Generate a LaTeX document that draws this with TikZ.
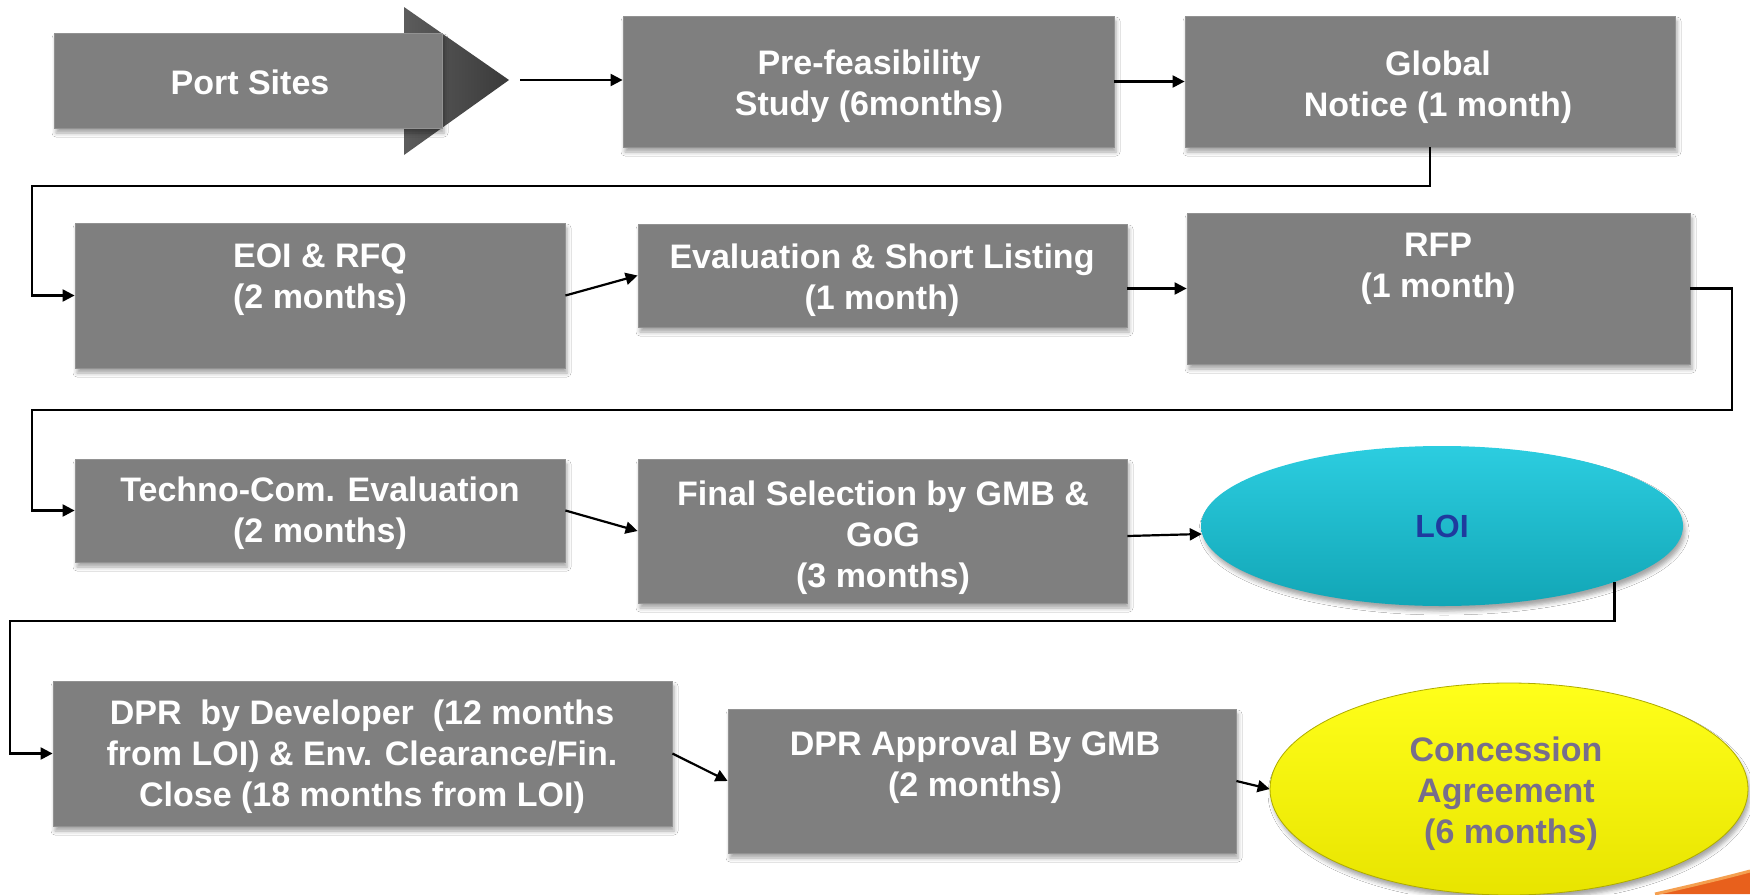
\documentclass[tikz,border=0pt]{standalone}
\usepackage{fontspec}
\setmainfont{Liberation Sans}
\usetikzlibrary{shapes.geometric, arrows.meta, shadows.blur, calc}

\definecolor{boxgray}{HTML}{7F7F7F}
\definecolor{headL}{HTML}{5C5C5C}
\definecolor{headR}{HTML}{3A3A3A}
\definecolor{loitop}{HTML}{2CCDE0}
\definecolor{loibot}{HTML}{12A6B6}
\definecolor{loitext}{HTML}{1F3A9E}
\definecolor{catop}{HTML}{FFFF1A}
\definecolor{cabot}{HTML}{E8E400}
\definecolor{catext}{HTML}{776E8C}
\definecolor{swooshA}{HTML}{E8601C}
\definecolor{swooshB}{HTML}{F5A050}

\tikzset{
  stage/.style={rectangle, fill=boxgray, draw=boxgray!85!white, line width=0.8pt,
    inner sep=0pt,
    blur shadow={shadow xshift=2pt, shadow yshift=-5pt, shadow blur radius=4pt, shadow opacity=35}},
  lbl/.style={text=white, font=\bfseries\fontsize{34}{41}\selectfont, align=center, inner sep=0pt},
  oval/.style={ellipse, inner sep=0pt,
    blur shadow={shadow xshift=2pt, shadow yshift=-5pt, shadow blur radius=4pt, shadow opacity=35}},
  flow/.style={draw=black, line width=2.2pt, -{Triangle[length=12pt,width=12pt]}},
}

\begin{document}
\begin{tikzpicture}[x=1pt, y=-1pt]
\useasboundingbox (0,0) rectangle (1750,894);
\fill[white] (0,0) rectangle (1750,894);

% decorative swoosh in the lower right corner
\fill[swooshA] (1655,894) .. controls (1690,886) and (1720,879) .. (1750,871) -- (1750,894) -- cycle;
\draw[swooshB, line width=3pt] (1655,894) .. controls (1690,886) and (1720,879) .. (1750,871);

% "Port Sites" block arrow: dark head behind a lighter body
\shade[left color=headL, right color=headR] (404,7) -- (509,80) -- (404,155) -- cycle;
\node[stage, minimum width=388pt, minimum height=95pt] (port) at (248,80.5) {};
\node[lbl] (port-t) at (250,82) {Port Sites};
\coordinate (port-tip) at (520,80);

% first row
\node[stage, minimum width=491pt, minimum height=131pt] (pf) at (868.5,81.5) {};
\node[lbl] (pf-t) at (869,86) {Pre-feasibility\\Study (6months)};
\node[stage, minimum width=490pt, minimum height=131pt] (gn) at (1430,81.5) {};
\node[lbl] (gn-t) at (1438,87) {Global\\Notice (1 month)};

% second row
\node[stage, minimum width=490pt, minimum height=145pt] (eoi) at (320,295.5) {};
\node[lbl] (eoi-t) at (320,280) {EOI \& RFQ\\(2 months)};
\node[stage, minimum width=489pt, minimum height=103pt] (ev) at (882.5,275.5) {};
\node[lbl] (ev-t) at (882,280) {Evaluation \& Short Listing\\(1 month)};
\node[stage, minimum width=503pt, minimum height=151pt] (rfp) at (1438.5,288.5) {};
\node[lbl] (rfp-t) at (1438,269) {RFP\\(1 month)};

% third row
\node[stage, minimum width=490pt, minimum height=103pt] (tc) at (320,510.5) {};
\node[lbl] (tc-t) at (320,513) {Techno-Com. Evaluation\\(2 months)};
\node[stage, minimum width=489pt, minimum height=144pt] (fs) at (882.5,531) {};
\node[lbl] (fs-t) at (883,538) {Final Selection by GMB \&\\GoG\\(3 months)};
\node[oval, minimum width=482pt, minimum height=160pt, top color=loitop, bottom color=loibot,
      text=loitext, font=\bfseries\fontsize{32}{38}\selectfont] (loi) at (1442,526) {LOI};

% fourth row
\node[stage, minimum width=619pt, minimum height=145pt] (dpr) at (362.5,753.5) {};
\node[lbl] (dpr-t) at (362,757) {DPR\ \ by Developer\ \ (12 months\\from LOI) \& Env. Clearance/Fin.\\Close (18 months from LOI)};
\node[stage, minimum width=508pt, minimum height=144pt] (apv) at (982,781) {};
\node[lbl] (apv-t) at (975,767) {DPR Approval By GMB\\(2 months)};
\node[oval, minimum width=478pt, minimum height=212pt, top color=catop, bottom color=cabot,
      draw=cabot!75!black, line width=0.8pt] (ca) at (1509,789) {};
\node[lbl, text=catext] (ca-t) at (1506,794) {Concession\\Agreement\\\hspace*{0.3em}(6 months)};

% connectors
\draw[flow] (port-tip) -- (pf.west |- port-tip);
\draw[flow] (pf.east) -- (gn.west);
\draw[flow] (gn.south) |- (32,186) |- (eoi.west);
\draw[flow] (eoi.east) -- (ev.west);
\draw[flow] ($(ev.east)+(0,13)$) -- (rfp.west);
\draw[flow] (rfp.east) -| (1732,410) -- (32,410) |- (tc.west);
\draw[flow] (tc.east) -- (fs.west);
\draw[flow] ($(fs.east)+(0,5)$) -- ($(loi.west)+(1,8)$);
\draw[flow] (loi.-18.4) |- (10,621) |- (dpr.west);
\draw[flow] (dpr.east) -- (apv.west);
\draw[flow] (apv.east) -- (ca.west);
\end{tikzpicture}
\end{document}
